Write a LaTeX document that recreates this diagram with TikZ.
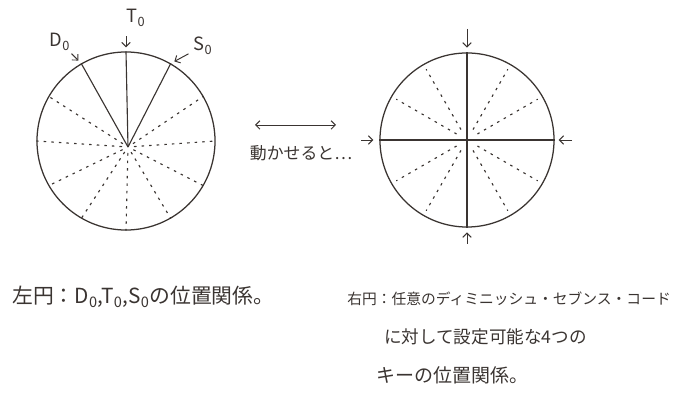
\documentclass[tikz,border=0pt]{standalone}
\usepackage{fontspec}
\setmainfont{Noto Sans CJK JP}
\usetikzlibrary{arrows.meta}
\definecolor{ink}{HTML}{3A3431}
\tikzset{
  rim/.style={circle,draw=ink,line width=0.9pt,inner sep=0pt},
  spoke/.style={draw=ink,line width=0.8pt},
  dots/.style={draw=ink,line width=0.8pt,dash pattern=on 1.8pt off 3.6pt},
  pointer/.style={draw=ink,line width=0.7pt,->},
  lbl/.style={text=ink,font=\fontsize{13}{13}\selectfont,inner sep=1pt},
  note/.style={text=ink,inner sep=0pt},
}
\begin{document}
\begin{tikzpicture}[x=0.025cm,y=-0.025cm,>={Straight Barb[length=3pt,width=6pt]}]
  \useasboundingbox (0,0) rectangle (680,405);
  % left circle
  \node[rim,minimum size=4.45cm] (L) at (126,141) {};
  \coordinate (lhub) at (128,147);
  \foreach \a in {60,90,120} \draw[spoke] (lhub) -- (L.\a);
  \foreach \a in {0,30,150,180,210,240,270,300,330} \draw[dots,shorten <=0.15cm] (lhub) -- (L.\a);
  \node[lbl] (T0) at (136,18) {T\textsubscript{0}};
  \node[lbl] (D0) at (60,42) {D\textsubscript{0}};
  \node[lbl] (S0) at (203,46) {S\textsubscript{0}};
  \draw[pointer,shorten <=0.2cm,shorten >=0.1cm] (T0.south -| L.north) -- (L.north);
  \draw[pointer,shorten <=0.05cm,shorten >=0.1cm] (D0) -- (L.120);
  \draw[pointer,shorten <=0.1cm,shorten >=0.1cm] (S0) -- (L.60);
  % right circle
  \node[rim,minimum size=4.35cm] (R) at (467,140) {};
  \draw[spoke] (R.north) -- (R.south);
  \draw[spoke] (R.west) -- (R.east);
  \foreach \a in {30,60,120,150,210,240,300,330} \draw[dots,shorten <=0.3cm,shorten >=0.15cm] (R.center) -- (R.\a);
  \coordinate (rn) at (467,29);
  \coordinate (rs) at (467,244);
  \coordinate (rw) at (361,140);
  \coordinate (re) at (572,140);
  \draw[pointer,shorten >=0.12cm] (rn) -- (R.north);
  \draw[pointer,shorten >=0.12cm] (rs) -- (R.south);
  \draw[pointer,shorten >=0.15cm] (rw) -- (R.west);
  \draw[pointer,shorten >=0.1cm] (re) -- (R.east);
  % between
  \coordinate (ml) at (255,125);
  \coordinate (mr) at (336,125);
  \draw[pointer,<->] (ml) -- (mr);
  \node[note,font=\fontsize{12}{12}\selectfont] (move) at (301,153) {動かせると…};
  % captions
  \node[note,anchor=west,font=\fontsize{14.8}{14.8}\selectfont] (lnote) at (12,297) {左円：D\textsubscript{0},T\textsubscript{0},S\textsubscript{0}の位置関係。};
  \node[note,align=left,anchor=north west,font=\fontsize{10.5}{27.5}\selectfont] (rnote) at (347,292) {右円：任意のディミニッシュ・セブンス・コード\\\hspace*{2.5em}{\fontsize{12.5}{27.5}\selectfont に対して設定可能な4つの}\\\hspace*{2em}{\fontsize{13.5}{27.5}\selectfont キーの位置関係。}};
\end{tikzpicture}
\end{document}
